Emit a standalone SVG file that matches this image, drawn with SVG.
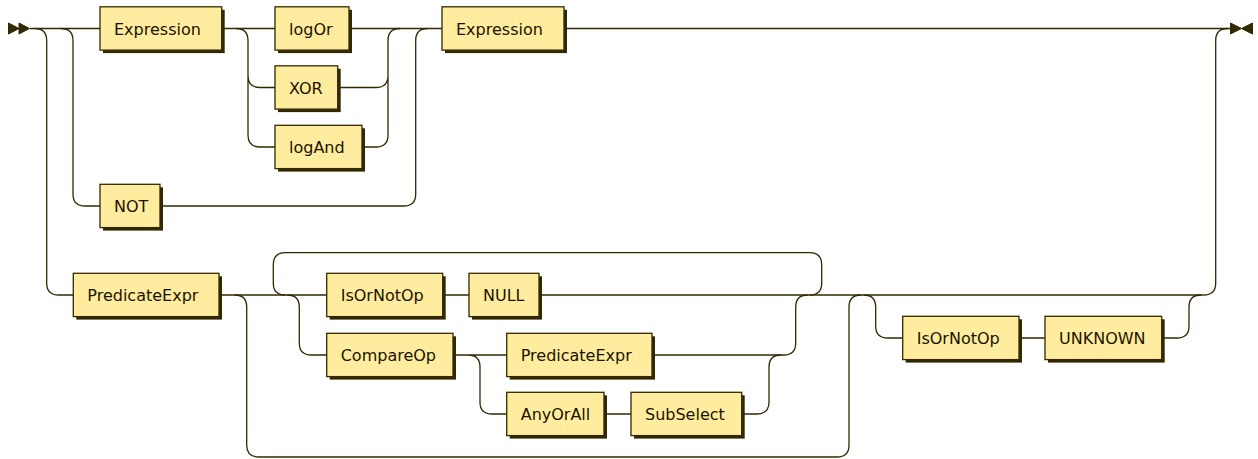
<svg xmlns="http://www.w3.org/2000/svg" width="1258" height="459" viewBox="0 0 1258 459">
<style>
.shadow{fill:#332900;stroke:none}
.box{fill:#FFEC9E;stroke:#332900;stroke-width:1.3}
.lbl{font-family:"DejaVu Sans","Liberation Sans",sans-serif;font-size:16px;fill:#1A1400}
.line{fill:none;stroke:#332900;stroke-width:1.3}
.mark{fill:#332900;stroke:#332900;stroke-width:1}
</style>
<rect width="1258" height="459" fill="#ffffff"/>
<g id="connectors">
<path class="line" d="M30 28.5 H100 M221.7 28.5 H275 M349 28.5 H442 M564 28.5 H1230"/>
<path class="line" d="M34.7 28.5 q12 0 12 12 V283 q0 12 12 12 H73.3"/>
<path class="line" d="M61 28.5 q12 0 12 12 V194 q0 12 12 12 H100"/>
<path class="line" d="M236 28.5 q12 0 12 12 V75.5 q0 12 12 12 H275 M248 75.5 V135 q0 12 12 12 H275"/>
<path class="line" d="M337.7 87.5 H376 q12 0 12 -12 V40.5 q0 -12 12 -12 M362 147 H376 q12 0 12 -12 V75.5"/>
<path class="line" d="M160 206 H403.7 q12 0 12 -12 V40.5 q0 -12 12 -12"/>
<path class="line" d="M1203.7 295 q12 0 12 -12 V40.5 q0 -12 12 -12"/>
<path class="line" d="M219 295 H326.7 M442.7 295 H469 M539 295 H1203.7"/>
<path class="line" d="M234.7 295 q12 0 12 12 V445 q0 12 12 12 H837 q12 0 12 -12 V307 q0 -12 12 -12"/>
<path class="line" d="M285.3 295 q-12 0 -12 -12 V264.7 q0 -12 12 -12 H809.7 q12 0 12 12 V283 q0 12 -12 12"/>
<path class="line" d="M287.3 295 q12 0 12 12 V343 q0 12 12 12 H326.7"/>
<path class="line" d="M453 355 H506.7 M468 355 q12 0 12 12 V402 q0 12 12 12 H506.7 M604 414 H631"/>
<path class="line" d="M741.7 414 H757 q12 0 12 -12 V367 q0 -12 12 -12"/>
<path class="line" d="M652 355 H783.7 q12 0 12 -12 V307 q0 -12 12 -12"/>
<path class="line" d="M863.7 295 q12 0 12 12 V326 q0 12 12 12 H902.7 M1019 338 H1045"/>
<path class="line" d="M1161.7 338 H1177 q12 0 12 -12 V307 q0 -12 12 -12"/>
</g>
<g id="start">
<polygon class="mark" points="8.5,23 8.5,34 19,28.5"/>
<polygon class="mark" points="19,23 19,34 29.5,28.5"/>
</g>
<g id="end">
<polygon class="mark" points="1230.5,23 1230.5,34 1241.5,28.5"/>
<polygon class="mark" points="1252.5,23 1252.5,34 1241.5,28.5"/>
</g>
<g id="expression1"><rect class="shadow" x="103" y="9.8" width="121.7" height="43.3"/><rect class="box" x="100" y="6.8" width="121.7" height="43.3"/><text class="lbl" x="114" y="34.5">Expression</text></g>
<g id="logOr"><rect class="shadow" x="278" y="9.8" width="74" height="43.3"/><rect class="box" x="275" y="6.8" width="74" height="43.3"/><text class="lbl" x="289" y="34.5">logOr</text></g>
<g id="xor"><rect class="shadow" x="278" y="68.8" width="62.7" height="43.3"/><rect class="box" x="275" y="65.8" width="62.7" height="43.3"/><text class="lbl" x="289" y="93.5">XOR</text></g>
<g id="logAnd"><rect class="shadow" x="278" y="128.3" width="87" height="43.3"/><rect class="box" x="275" y="125.3" width="87" height="43.3"/><text class="lbl" x="289" y="153">logAnd</text></g>
<g id="not"><rect class="shadow" x="103" y="187.3" width="60" height="43.3"/><rect class="box" x="100" y="184.3" width="60" height="43.3"/><text class="lbl" x="114" y="212">NOT</text></g>
<g id="expression2"><rect class="shadow" x="445" y="9.8" width="122" height="43.3"/><rect class="box" x="442" y="6.8" width="122" height="43.3"/><text class="lbl" x="456" y="34.5">Expression</text></g>
<g id="predicateExpr1"><rect class="shadow" x="76.3" y="276.3" width="145.7" height="43.3"/><rect class="box" x="73.3" y="273.3" width="145.7" height="43.3"/><text class="lbl" x="87.3" y="301">PredicateExpr</text></g>
<g id="isOrNotOp1"><rect class="shadow" x="329.7" y="276.3" width="116" height="43.3"/><rect class="box" x="326.7" y="273.3" width="116" height="43.3"/><text class="lbl" x="340.7" y="301">IsOrNotOp</text></g>
<g id="null"><rect class="shadow" x="472" y="276.3" width="70" height="43.3"/><rect class="box" x="469" y="273.3" width="70" height="43.3"/><text class="lbl" x="483" y="301">NULL</text></g>
<g id="compareOp"><rect class="shadow" x="329.7" y="336.3" width="126.3" height="43.3"/><rect class="box" x="326.7" y="333.3" width="126.3" height="43.3"/><text class="lbl" x="340.7" y="361">CompareOp</text></g>
<g id="predicateExpr2"><rect class="shadow" x="509.7" y="336.3" width="145.3" height="43.3"/><rect class="box" x="506.7" y="333.3" width="145.3" height="43.3"/><text class="lbl" x="520.7" y="361">PredicateExpr</text></g>
<g id="anyOrAll"><rect class="shadow" x="509.7" y="395.3" width="97.3" height="43.3"/><rect class="box" x="506.7" y="392.3" width="97.3" height="43.3"/><text class="lbl" x="520.7" y="420">AnyOrAll</text></g>
<g id="subSelect"><rect class="shadow" x="634" y="395.3" width="110.7" height="43.3"/><rect class="box" x="631" y="392.3" width="110.7" height="43.3"/><text class="lbl" x="645" y="420">SubSelect</text></g>
<g id="isOrNotOp2"><rect class="shadow" x="905.7" y="319.3" width="116.3" height="43.3"/><rect class="box" x="902.7" y="316.3" width="116.3" height="43.3"/><text class="lbl" x="916.7" y="344">IsOrNotOp</text></g>
<g id="unknown"><rect class="shadow" x="1048" y="319.3" width="116.7" height="43.3"/><rect class="box" x="1045" y="316.3" width="116.7" height="43.3"/><text class="lbl" x="1059" y="344">UNKNOWN</text></g>
</svg>
